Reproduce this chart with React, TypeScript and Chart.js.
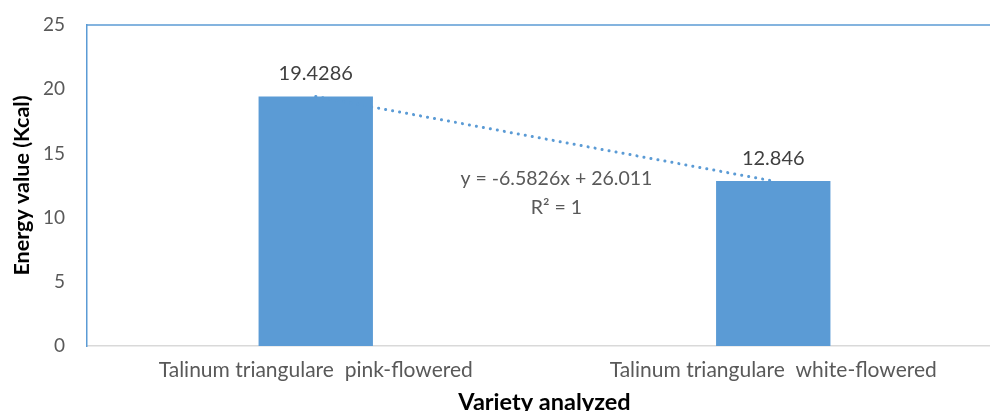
import React, { useEffect, useRef } from "react";
import { Chart, registerables } from "chart.js";

Chart.register(...registerables);

const categories = ["Talinum triangulare  pink-flowered", "Talinum triangulare  white-flowered"];
const energyValues = [19.4286, 12.846];
const valueLabels = ["19.4286", "12.846"];
const trendValues = [19.4286, 12.846];
const trendLabelLines = ["y = -6.5826x + 26.011", "R\u00b2 = 1"];
const yTicks = [0, 5, 10, 15, 20, 25];

const BLUE = "#5B9BD5";
const FONT = "Lato, 'Open Sans', sans-serif";

export default function App() {
  const ref = useRef<HTMLCanvasElement | null>(null);

  useEffect(() => {
    const canvas = ref.current;
    if (!canvas) return;

    const overlay = {
      id: "overlay",
      afterDatasetsDraw(chart: any) {
        const { ctx, chartArea } = chart;
        ctx.save();
        ctx.strokeStyle = BLUE;
        ctx.lineWidth = 1.5;
        ctx.beginPath();
        ctx.moveTo(chartArea.left, chartArea.top);
        ctx.lineTo(chartArea.right, chartArea.top);
        ctx.stroke();
        const meta = chart.getDatasetMeta(0);
        ctx.fillStyle = "#404040";
        ctx.font = `20px ${FONT}`;
        ctx.textAlign = "center";
        ctx.textBaseline = "middle";
        meta.data.forEach((bar: any, i: number) => {
          ctx.fillText(valueLabels[i], bar.x, bar.y - 23);
        });
        const xs = chart.scales.x;
        const ys = chart.scales.y;
        const cx = xs.getPixelForValue(0.526);
        ctx.fillStyle = "#595959";
        ctx.font = `19.5px ${FONT}`;
        ctx.fillText(trendLabelLines[0], cx, ys.getPixelForValue(13.0));
        ctx.fillText(trendLabelLines[1], cx, ys.getPixelForValue(10.8));
        ctx.restore();
      },
    };

    const chart = new Chart(canvas, {
      type: "bar",
      data: {
        labels: categories,
        datasets: [
          {
            type: "bar",
            data: energyValues,
            backgroundColor: BLUE,
            borderWidth: 0,
            categoryPercentage: 1,
            barPercentage: 0.25,
            order: 1,
          },
          {
            type: "line",
            data: trendValues,
            borderColor: BLUE,
            borderWidth: 3,
            borderDash: [0.1, 7],
            borderCapStyle: "round",
            pointRadius: 0,
            fill: false,
            order: 0,
          } as any,
        ],
      },
      options: {
        animation: false,
        responsive: false,
        devicePixelRatio: 1,
        layout: { padding: { top: 25, right: 0, bottom: 0, left: 0 } },
        plugins: {
          legend: { display: false },
          tooltip: { enabled: false },
        },
        scales: {
          x: {
            offset: true,
            grid: { display: false, drawTicks: false },
            border: { display: true, color: "#D9D9D9", width: 1.5 },
            ticks: {
              color: "#595959",
              font: { family: FONT, size: 21 },
              padding: 12,
              maxRotation: 0,
              autoSkip: false,
            },
            title: {
              display: true,
              text: "Variety analyzed",
              color: "#000000",
              font: { family: FONT, size: 23.5, weight: "bold", lineHeight: 1 },
              padding: { top: 0, bottom: -3 },
            },
            afterFit(scale: any) {
              scale.height = 65;
            },
          },
          y: {
            min: 0,
            max: 25,
            afterBuildTicks(scale: any) {
              scale.ticks = yTicks.map((v) => ({ value: v }));
            },
            grid: { display: false, drawTicks: true, tickLength: 22 },
            border: { display: true, color: BLUE, width: 1.5 },
            ticks: {
              color: "#595959",
              font: { family: FONT, size: 19 },
              padding: 0,
            },
            title: {
              display: true,
              text: "Energy value (Kcal)",
              color: "#000000",
              font: { family: FONT, size: 21.5, weight: "bold", lineHeight: 1 },
              padding: { top: 11, bottom: 0 },
            },
            afterFit(scale: any) {
              scale.width = 87;
            },
          },
        },
      },
      plugins: [overlay],
    });

    return () => chart.destroy();
  }, []);

  return (
    <div style={{ position: "fixed", left: 0, top: 0, width: 990, height: 411, overflow: "hidden", background: "#fff" }}>
      <canvas ref={ref} width={1002} height={411} style={{ display: "block", width: 1002, height: 411 }} />
    </div>
  );
}
